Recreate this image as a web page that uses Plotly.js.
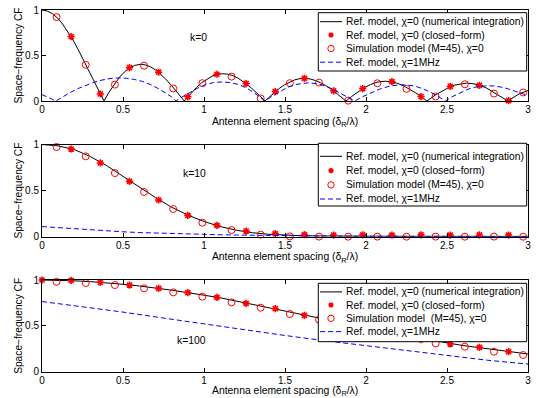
<!DOCTYPE html>
<html><head><meta charset="utf-8">
<script src="https://cdn.plot.ly/plotly-3.0.1.min.js"></script>
<style>html,body{margin:0;padding:0;background:#fff;}#chart{width:536px;height:398px;}</style>
</head><body><div id="chart"></div>
<script>
// ---------------- data ----------------
const xTickVals = [0, 0.5, 1, 1.5, 2, 2.5, 3];
const xTickText = ['0', '0.5', '1', '1.5', '2', '2.5', '3'];
const yTickVals = [0, 0.5, 1];
const yTickText = ['0', '0.5', '1'];
const xTitle = 'Antenna element spacing (δ<sub>R</sub>/λ)';
const yTitle = 'Space−frequency CF';
const panelLabels = ['k=0', 'k=10', 'k=100'];
const seriesNames = ['Ref. model, χ=0 (numerical integration)', 'Ref. model, χ=0 (closed−form)', 'Simulation model (M=45), χ=0', 'Ref. model, χ=1MHz'];
const simNameBottom = 'Simulation model \u00a0(M=45), χ=0';

// k = 0
const refX_k0 = [0,0.0318,0.0637,0.0955,0.1273,0.1592,0.1910,0.2228,0.2546,0.2865,0.3183,0.3501,0.3828,0.4138,0.4456,0.4775,0.5093,0.5411,0.5730,0.6096,0.6366,0.6685,0.7003,0.7321,0.7639,0.7958,0.8276,0.8594,0.8785,0.8913,0.9231,0.9549,0.9868,1.0186,1.0504,1.0823,1.1141,1.1459,1.1777,1.2096,1.2414,1.2732,1.3051,1.3369,1.3773,1.4006,1.4324,1.4642,1.4961,1.5279,1.5597,1.5915,1.6234,1.6552,1.6870,1.7189,1.7507,1.7905,1.8303,1.8765,1.9099,1.9496,1.9894,2.0292,2.0690,2.1199,2.1645,2.1884,2.2282,2.2680,2.3077,2.3475,2.3762,2.4271,2.4669,2.5067,2.5465,2.5863,2.6213,2.6658,2.7056,2.7454,2.7852,2.8250,2.8759,2.9444,3.0];
const refY_k0 = [1,0.990,0.960,0.912,0.846,0.765,0.671,0.567,0.455,0.340,0.224,0.110,0,0.097,0.185,0.260,0.320,0.364,0.392,0.403,0.397,0.377,0.342,0.296,0.240,0.178,0.110,0.041,0,0.027,0.092,0.151,0.202,0.243,0.274,0.293,0.300,0.295,0.279,0.252,0.215,0.172,0.122,0.069,0,0.039,0.090,0.137,0.177,0.209,0.232,0.246,0.249,0.242,0.226,0.201,0.171,0.124,0.068,0,0.048,0.100,0.147,0.182,0.207,0.218,0.210,0.198,0.171,0.133,0.088,0.038,0,0.065,0.109,0.144,0.175,0.190,0.197,0.189,0.170,0.141,0.100,0.055,0,0.078,0.115];
const cfX_k0 = [0.18,0.36,0.54,0.72,0.90,1.08,1.26,1.44,1.62,1.80,1.98,2.16,2.34,2.52,2.70,2.88];
const cfY_k0 = [0.708,0.077,0.366,0.316,0.046,0.294,0.192,0.104,0.249,0.112,0.137,0.213,0.049,0.160,0.171,0.005];
const simX_k0 = [0.09,0.27,0.45,0.63,0.81,0.99,1.17,1.35,1.53,1.71,1.89,2.07,2.25,2.43,2.61,2.79,2.97];
const simY_k0 = [0.922,0.398,0.180,0.388,0.138,0.196,0.268,0.028,0.196,0.202,0.004,0.195,0.133,0.050,0.184,0.082,0.094];
const chiX_k0 = [0,0.03,0.06,0.086,0.12,0.17,0.22,0.27,0.32,0.37,0.42,0.467,0.52,0.57,0.62,0.67,0.72,0.77,0.80,0.827,0.86,0.91,0.96,1.01,1.06,1.11,1.16,1.21,1.26,1.31,1.35,1.376,1.41,1.46,1.51,1.56,1.61,1.643,1.70,1.75,1.80,1.85,1.90,1.93,1.97,2.03,2.09,2.15,2.21,2.25,2.30,2.35,2.40,2.45,2.49,2.53,2.58,2.63,2.68,2.74,2.79,2.85,2.90,2.95,3.0];
const chiY_k0 = [0.070,0.050,0.022,0,0.040,0.090,0.135,0.172,0.205,0.230,0.247,0.253,0.250,0.237,0.215,0.180,0.135,0.080,0.045,0,0.040,0.090,0.140,0.180,0.203,0.209,0.203,0.183,0.145,0.090,0.040,0,0.040,0.095,0.145,0.180,0.197,0.200,0.190,0.165,0.125,0.075,0.030,0,0.040,0.090,0.135,0.165,0.178,0.176,0.165,0.135,0.095,0.045,0,0.045,0.090,0.130,0.155,0.167,0.165,0.148,0.120,0.090,0.060];

// k = 10
const refX_k10 = [0,0.1,0.2,0.3,0.4,0.5,0.6,0.7,0.8,0.9,1.0,1.1,1.2,1.3,1.4,1.5,1.6,1.7,1.8,1.9,2.0,2.1,2.2,2.3,2.4,2.5,2.6,2.7,2.8,2.9,3.0];
const refY_k10 = [1,0.985,0.945,0.868,0.770,0.655,0.540,0.425,0.320,0.235,0.165,0.110,0.070,0.043,0.026,0.016,0.011,0.008,0.006,0.005,0.005,0.004,0.004,0.004,0.004,0.003,0.003,0.003,0.003,0.003,0.003];
const cfX_k10 = [0.18,0.36,0.54,0.72,0.90,1.08,1.26,1.44,1.62,1.80,1.98,2.16,2.34,2.52,2.70,2.88];
const cfY_k10 = [0.951,0.800,0.600,0.398,0.231,0.123,0.061,0.033,0.022,0.018,0.020,0.017,0.020,0.018,0.019,0.018];
const simX_k10 = [0.09,0.27,0.45,0.63,0.81,0.99,1.17,1.35,1.53,1.71,1.89,2.07,2.25,2.43,2.61,2.79,2.97];
const simY_k10 = [0.973,0.872,0.690,0.485,0.300,0.152,0.072,0.022,0.003,0.001,0.000,0.001,0.000,0.001,0.000,0.001,0.000];
const chiX_k10 = [0,0.1,0.2,0.3,0.4,0.5,0.6,0.7,0.8,0.9,1.0,1.1,1.2,1.3,1.4,1.5,1.6,1.7,1.8,1.9,2.0,2.1,2.2,2.3,2.4,2.5,2.6,2.7,2.8,2.9,3.0];
const chiY_k10 = [0.110,0.097,0.085,0.074,0.063,0.053,0.045,0.039,0.033,0.028,0.024,0.021,0.018,0.015,0.012,0.010,0.008,0.007,0.006,0.005,0.004,0.004,0.003,0.003,0.003,0.002,0.002,0.002,0.002,0.002,0.002];

// k = 100
const refX_k100 = [0,0.1,0.2,0.3,0.4,0.5,0.6,0.7,0.8,0.9,1.0,1.1,1.2,1.3,1.4,1.5,1.6,1.7,1.8,1.9,2.0,2.1,2.2,2.3,2.4,2.5,2.6,2.7,2.8,2.9,3.0];
const refY_k100 = [1,0.997,0.991,0.982,0.970,0.953,0.935,0.914,0.889,0.862,0.835,0.806,0.770,0.733,0.701,0.663,0.623,0.585,0.548,0.512,0.477,0.442,0.408,0.375,0.343,0.312,0.285,0.262,0.240,0.216,0.193];
const cfX_k100 = [0,0.18,0.36,0.54,0.72,0.90,1.08,1.26,1.44,1.62,1.80,1.98,2.16,2.34,2.52,2.70,2.88];
const cfY_k100 = [1.0,0.995,0.975,0.945,0.909,0.862,0.811,0.745,0.687,0.615,0.545,0.478,0.410,0.350,0.302,0.265,0.218];
const simX_k100 = [0.09,0.27,0.45,0.63,0.81,0.99,1.17,1.35,1.53,1.71,1.89,2.07,2.25,2.43,2.61,2.79,2.97];
const simY_k100 = [0.980,0.967,0.945,0.909,0.865,0.818,0.756,0.698,0.629,0.567,0.500,0.440,0.375,0.309,0.273,0.218,0.182];
const chiX_k100 = [0,0.25,0.5,0.75,1.0,1.25,1.5,1.75,2.0,2.25,2.5,2.75,3.0];
const chiY_k100 = [0.765,0.708,0.650,0.585,0.520,0.455,0.395,0.337,0.282,0.228,0.173,0.125,0.083];

// ---------------- figure ----------------
const W = 536, H = 398, ML = 42, MR = 8, MT = 10, MB = 26;
const PW = W - ML - MR, PH = H - MT - MB;
const px = v => (v - ML) / PW;
const py = v => (H - MB - v) / PH;
const FONT = 'Liberation Sans, Arial, Helvetica, sans-serif';

const panels = [
  {refX: refX_k0, refY: refY_k0, cfX: cfX_k0, cfY: cfY_k0, simX: simX_k0, simY: simY_k0, chiX: chiX_k0, chiY: chiY_k0, top: 10, bot: 101, label: panelLabels[0], lx: 0.963, ly: 0.70,
   leg: {y0: 12.7, y1: 71, rows: [21.7, 35.0, 48.5, 62.2]}, simName: seriesNames[2]},
  {refX: refX_k10, refY: refY_k10, cfX: cfX_k10, cfY: cfY_k10, simX: simX_k10, simY: simY_k10, chiX: chiX_k10, chiY: chiY_k10, top: 144.5, bot: 236.7, label: panelLabels[1], lx: 0.944, ly: 0.69,
   leg: {y0: 143.3, y1: 206, rows: [156.3, 170.6, 184.9, 199]}, simName: seriesNames[2]},
  {refX: refX_k100, refY: refY_k100, cfX: cfX_k100, cfY: cfY_k100, simX: simX_k100, simY: simY_k100, chiX: chiX_k100, chiY: chiY_k100, top: 280, bot: 371.7, label: panelLabels[2], lx: 0.924, ly: 0.345,
   leg: {y0: 283.3, y1: 341.7, rows: [291.9, 305.0, 318.3, 331.6]}, simName: simNameBottom}
];

const traces = [];
const layout = {
  width: W, height: H,
  margin: {l: ML, r: MR, t: MT, b: MB},
  paper_bgcolor: '#fff', plot_bgcolor: '#fff',
  font: {family: FONT, size: 10, color: '#000'},
  showlegend: false,
  shapes: [], annotations: []
};

panels.forEach((p, i) => {
  const sfx = i === 0 ? '' : String(i + 1);
  const xa = 'x' + sfx, ya = 'y' + sfx;
  const last = i === panels.length - 1;
  traces.push({x: p.refX, y: p.refY, xaxis: xa, yaxis: ya, mode: 'lines', name: seriesNames[0],
    line: {color: '#000', width: 1}});
  traces.push({x: p.cfX, y: p.cfY, xaxis: xa, yaxis: ya, mode: 'markers', name: seriesNames[1], cliponaxis: false,
    marker: {symbol: 'asterisk-open', size: 6, color: '#ff0000', line: {color: '#ff0000', width: 1.6}}});
  traces.push({x: p.simX, y: p.simY, xaxis: xa, yaxis: ya, mode: 'markers', name: p.simName, cliponaxis: false,
    marker: {symbol: 'circle-open', size: 7, color: '#ff0000', line: {color: '#ff0000', width: 1}}});
  traces.push({x: p.chiX, y: p.chiY, xaxis: xa, yaxis: ya, mode: 'lines', name: seriesNames[3],
    line: {color: '#0000ff', width: 1, dash: '5px,3px'}});

  const xaxis = {
    domain: [0, 1], range: [0, 3], anchor: ya,
    tickmode: 'array', tickvals: xTickVals, ticktext: xTickText,
    ticks: 'inside', ticklen: 4, tickwidth: 1, tickcolor: '#000', ticklabelstandoff: -1,
    showline: true, linecolor: '#000', linewidth: 1, mirror: 'ticks',
    showgrid: false, zeroline: false, tickfont: {size: 10, family: FONT}
  };
  if (!last) {
    xaxis.title = {text: xTitle, font: {size: 10.4, family: FONT}, standoff: 3};
  } else {
    // bottom-most x title: placed as text below the axis (the margin would otherwise squeeze it)
    layout.annotations.push({xref: 'paper', yref: 'paper', x: 0.5, y: py(399.5), text: xTitle, showarrow: false,
      xanchor: 'center', yanchor: 'bottom', font: {size: 10.4, family: FONT}});
  }
  layout['xaxis' + sfx] = xaxis;
  layout['yaxis' + sfx] = {
    domain: [py(p.bot), py(p.top)], range: [0, 1], anchor: xa,
    tickmode: 'array', tickvals: yTickVals, ticktext: yTickText,
    ticks: 'inside', ticklen: 4, tickwidth: 1, tickcolor: '#000',
    showline: true, linecolor: '#000', linewidth: 1, mirror: 'ticks',
    showgrid: false, zeroline: false, tickfont: {size: 10, family: FONT},
    title: {text: yTitle, font: {size: 10.2, family: FONT}, standoff: 0}
  };
  layout.annotations.push({xref: xa, yref: ya, x: p.lx, y: p.ly, text: p.label, showarrow: false,
    xanchor: 'center', yanchor: 'middle', font: {size: 10.4, family: FONT}});

  // legend box (drawn like the original boxed legend)
  const L0 = 318.3, L1 = 526.7, s0 = 320, s1 = 342, cx = 331, tx = 343.5;
  layout.shapes.push({type: 'rect', xref: 'paper', yref: 'paper', layer: 'above',
    x0: px(L0), x1: px(L1), y0: py(p.leg.y1), y1: py(p.leg.y0),
    line: {color: '#000', width: 1}, fillcolor: '#fff'});
  const r = p.leg.rows;
  layout.shapes.push({type: 'line', xref: 'paper', yref: 'paper', layer: 'above',
    x0: px(s0), x1: px(s1), y0: py(r[0]), y1: py(r[0]), line: {color: '#000', width: 1}});
  const rs = 2.6, d = rs * 0.72;
  const P = (a, b) => px(a).toFixed(5) + ',' + py(b).toFixed(5);
  layout.shapes.push({type: 'path', xref: 'paper', yref: 'paper', layer: 'above',
    path: 'M' + P(cx - rs, r[1]) + 'L' + P(cx + rs, r[1]) + 'M' + P(cx, r[1] - rs) + 'L' + P(cx, r[1] + rs) +
          'M' + P(cx - d, r[1] - d) + 'L' + P(cx + d, r[1] + d) + 'M' + P(cx - d, r[1] + d) + 'L' + P(cx + d, r[1] - d),
    line: {color: '#ff0000', width: 1.6}});
  layout.shapes.push({type: 'circle', xref: 'paper', yref: 'paper', layer: 'above',
    x0: px(cx - 3.2), x1: px(cx + 3.2), y0: py(r[2] + 3.2), y1: py(r[2] - 3.2), line: {color: '#ff0000', width: 1}});
  layout.shapes.push({type: 'line', xref: 'paper', yref: 'paper', layer: 'above',
    x0: px(s0), x1: px(s1), y0: py(r[3]), y1: py(r[3]), line: {color: '#0000ff', width: 1, dash: '5px,3px'}});
  const names = [seriesNames[0], seriesNames[1], p.simName, seriesNames[3]];
  names.forEach((n, k) => {
    layout.annotations.push({xref: 'paper', yref: 'paper', x: px(tx), y: py(r[k]), text: n, showarrow: false,
      xanchor: 'left', yanchor: 'middle', font: {size: 10.3, family: FONT}});
  });
});

Plotly.newPlot('chart', traces, layout, {staticPlot: true, displayModeBar: false});
</script>
</body></html>
